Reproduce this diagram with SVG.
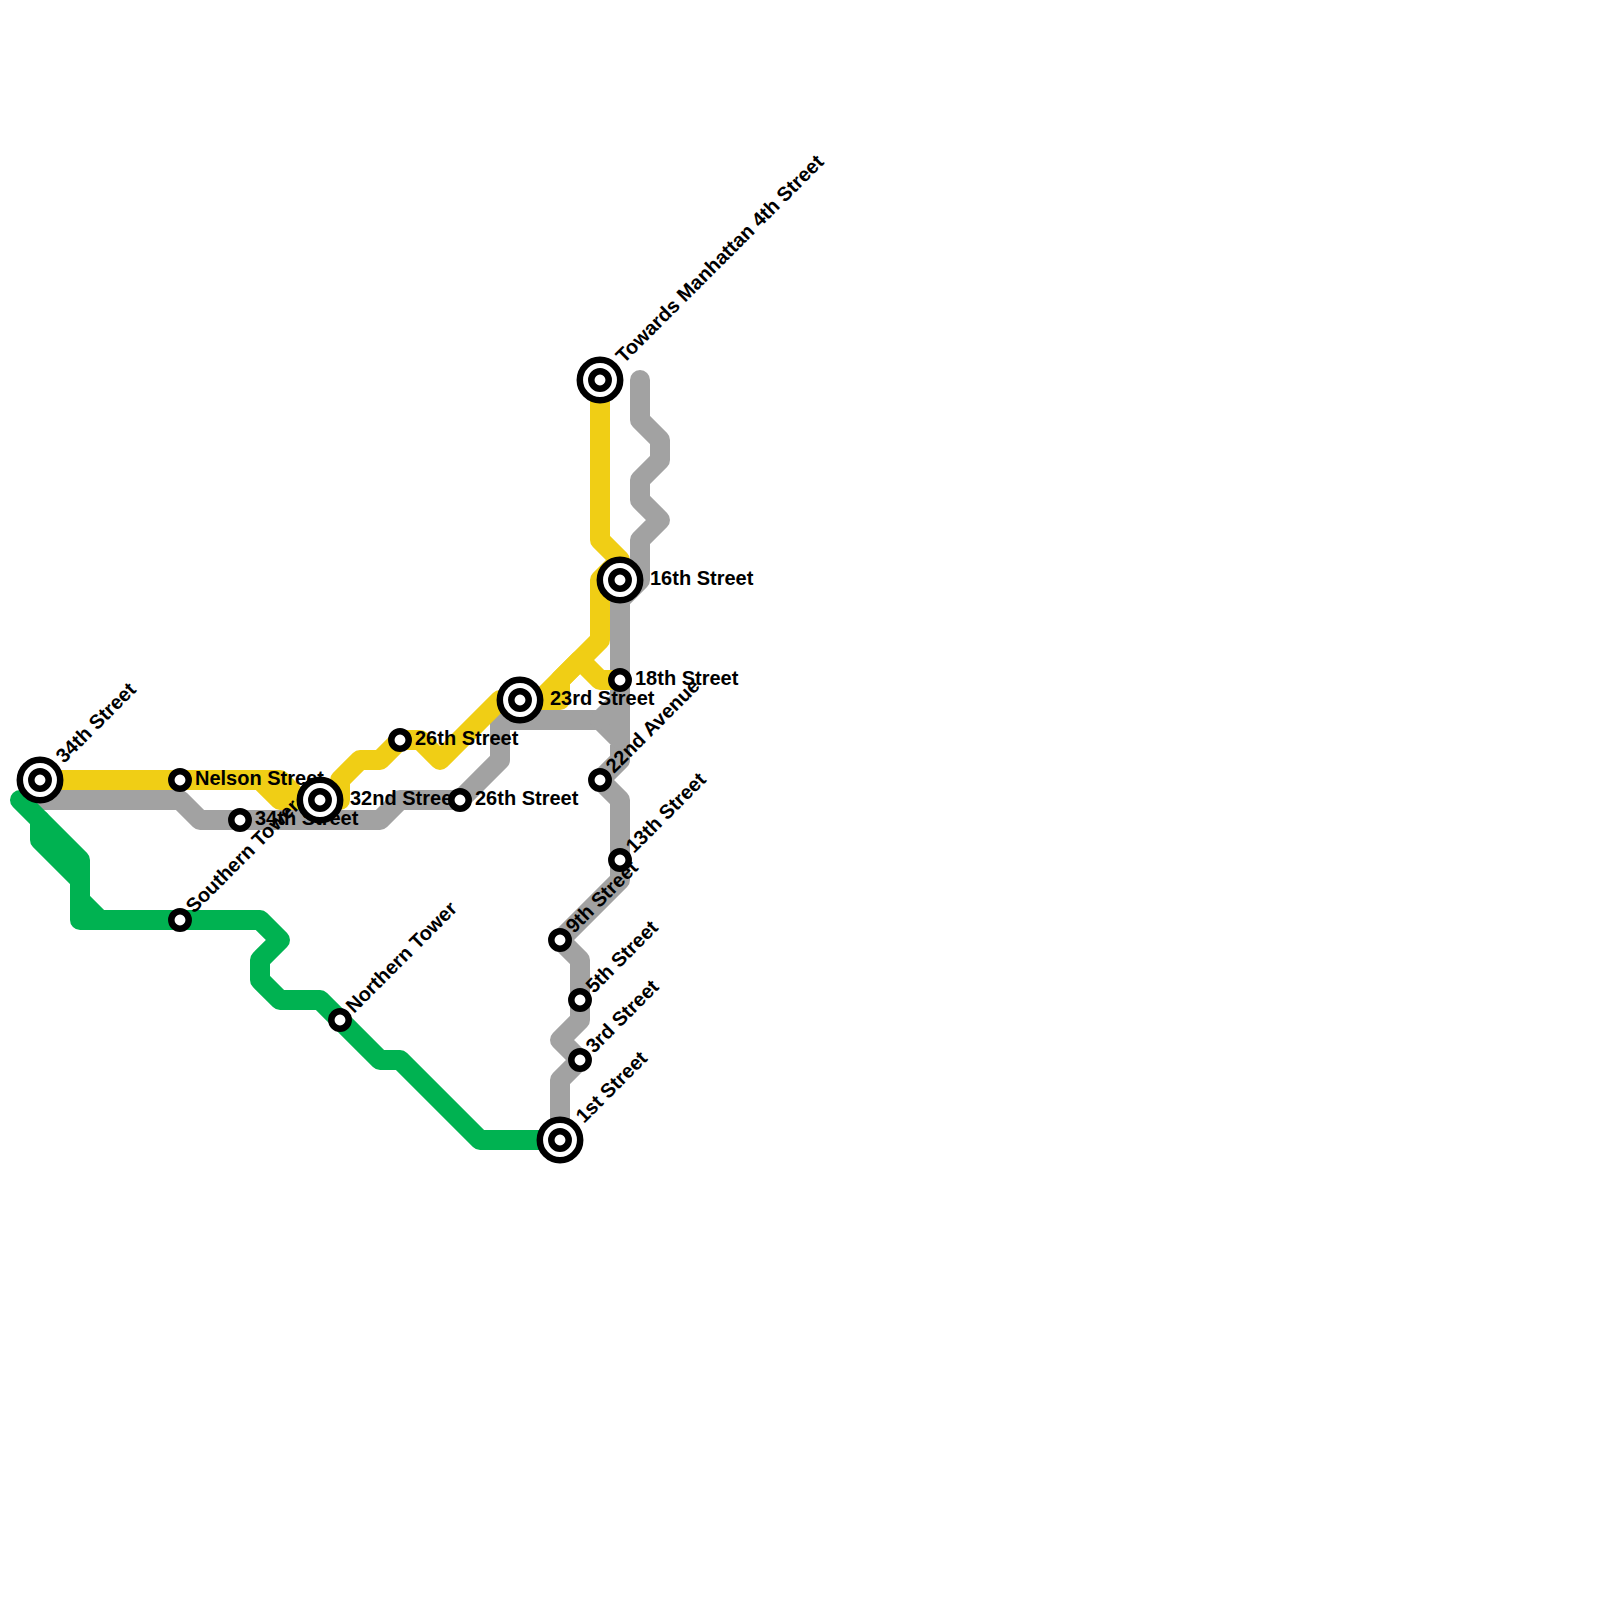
<svg xmlns="http://www.w3.org/2000/svg" width="1600" height="1600" viewBox="0 0 1600 1600">
<style>
.l{fill:none;stroke-width:20;stroke-linejoin:round;stroke-linecap:round}
.y{stroke:#f0ce15}.g{stroke:#a2a2a2}.n{stroke:#00b251}
text{font-family:"Liberation Sans",Arial,sans-serif;font-weight:700;font-size:20px;fill:#000}
.c{fill:#fff;stroke:#000;stroke-width:6.5}
</style>
<defs>
<g id="s"><circle class="c" r="8.7"/></g>
<g id="x"><circle class="c" r="20.2"/><circle class="c" r="8.7"/></g>
</defs>
<g id="connectors">
<path class="l g" d="M40 800H180L200 820H380L400 800H460L500 760V720H600L620 740V760L600 780L620 800V880L560 940L580 960V1020L560 1040L580 1060L560 1080V1140"/>
<path class="l g" d="M640 380V420L660 440V460L640 480V500L660 520L640 540V580L620 600V740M620 700L600 720"/>
<path class="l y" d="M40 780H280L300 800H340V780L360 760H380L400 740H420L440 760L500 700H520"/>
<path class="l y" d="M260 780L280 800H300"/>
<path class="l y" d="M600 380V540L620 560L600 580V640L540 700H520"/>
<path class="l y" d="M520 700H560V680L580 660L600 680H620"/>
<path class="l n" d="M20 800L80 860V900L100 920H260L280 940L260 960V980L280 1000H320L380 1060H400L480 1140H560"/>
<path class="l n" d="M40 820V840L80 880V920H100"/>
</g>
<g id="n-34th"><text transform="translate(64 764) rotate(-45)">34th Street</text><use href="#x" x="40" y="780"/></g>
<g id="n-nelson"><text x="195" y="785">Nelson Street</text><use href="#s" x="180" y="780"/></g>
<g id="n-southern"><text transform="translate(194 914) rotate(-45)">Southern Tower</text><use href="#s" x="180" y="920"/></g>
<g id="n-34th-b"><text x="255" y="825">34th Street</text><use href="#s" x="240" y="820"/></g>
<g id="n-32nd"><text x="350" y="805">32nd Street</text><use href="#x" x="320" y="800"/></g>
<g id="n-26th-b"><text x="475" y="805">26th Street</text><use href="#s" x="460" y="800"/></g>
<g id="n-northern"><text transform="translate(354 1014) rotate(-45)">Northern Tower</text><use href="#s" x="340" y="1020"/></g>
<g id="n-26th"><text x="415" y="745">26th Street</text><use href="#s" x="400" y="740"/></g>
<g id="n-23rd"><text x="550" y="705">23rd Street</text><use href="#x" x="520" y="700"/></g>
<g id="n-towards"><text transform="translate(624 364) rotate(-45)">Towards Manhattan 4th Street</text><use href="#x" x="600" y="380"/></g>
<g id="n-16th"><text x="650" y="585">16th Street</text><use href="#x" x="620" y="580"/></g>
<g id="n-22nd"><text transform="translate(614 774) rotate(-45)">22nd Avenue</text><use href="#s" x="600" y="780"/></g>
<g id="n-18th"><text x="635" y="685">18th Street</text><use href="#s" x="620" y="680"/></g>
<g id="n-9th"><text transform="translate(574 934) rotate(-45)">9th Street</text><use href="#s" x="560" y="940"/></g>
<g id="n-13th"><text transform="translate(634 854) rotate(-45)">13th Street</text><use href="#s" x="620" y="860"/></g>
<g id="n-5th"><text transform="translate(594 994) rotate(-45)">5th Street</text><use href="#s" x="580" y="1000"/></g>
<g id="n-3rd"><text transform="translate(594 1054) rotate(-45)">3rd Street</text><use href="#s" x="580" y="1060"/></g>
<g id="n-1st"><text transform="translate(584 1124) rotate(-45)">1st Street</text><use href="#x" x="560" y="1140"/></g>
</svg>
